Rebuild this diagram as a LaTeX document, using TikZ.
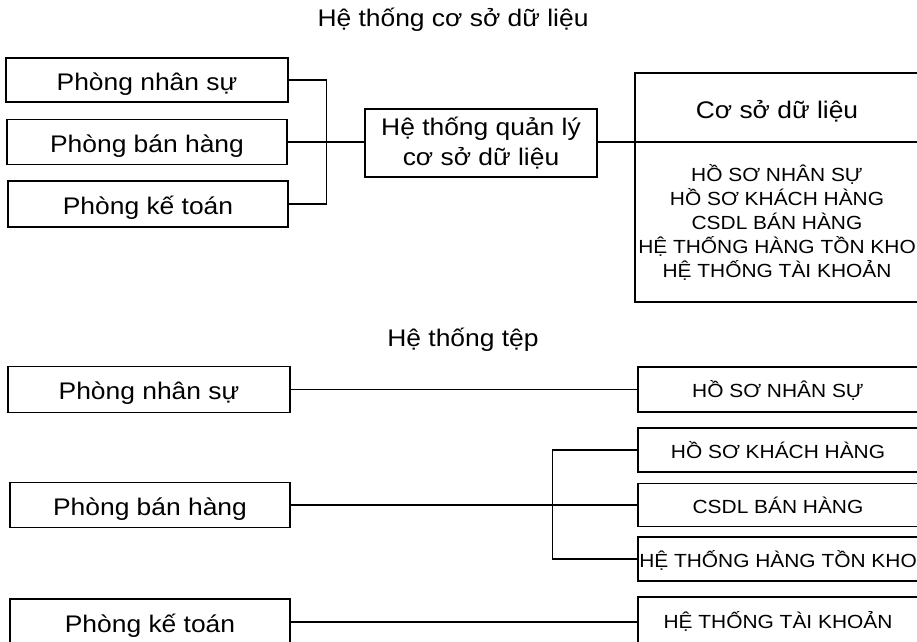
\documentclass[tikz,border=0pt]{standalone}
\usepackage{fontspec}
\setmainfont{Liberation Sans}[FakeStretch=1.1]
\begin{document}
\begin{tikzpicture}[x=1pt,y=-1pt,
  txt/.style={font=\fontsize{24}{29}\selectfont},
  caps/.style={font=\fontsize{19}{24}\selectfont},
  box/.style={draw,line width=1.1pt,inner sep=0pt,align=center},
  tbox/.style={box,txt,text height=26pt,text depth=6pt},
  cbox/.style={box,caps,text height=20pt,text depth=4pt},
  conn/.style={line width=1.1pt}]
\useasboundingbox (0,0) rectangle (917,641);
% titles
\node[txt,inner sep=0pt] (t1) at (453,20) {Hệ thống cơ sở dữ liệu};
\node[txt,inner sep=0pt] (t2) at (463,340) {Hệ thống tệp};
% top section
\node[tbox,minimum width=282,minimum height=44] (l1) at (147,80) {Phòng nhân sự};
\node[tbox,minimum width=280,minimum height=45] (l2) at (147,142) {Phòng bán hàng};
\node[tbox,minimum width=280,minimum height=46] (l3) at (148,204) {Phòng kế toán};
\node[box,txt,minimum width=232,minimum height=68,font=\fontsize{24}{30}\selectfont] (dbms) at (481,143) {Hệ thống quản lý\\cơ sở dữ liệu};
\node[box,minimum width=283,minimum height=229] (db) at (776.5,187.5) {};
\node[txt,inner sep=0pt] (dbt) at (777,111) {Cơ sở dữ liệu};
\node[caps,inner sep=0pt,align=center] (dbl) at (777,222) {HỒ SƠ NHÂN SỰ\\HỒ SƠ KHÁCH HÀNG\\CSDL BÁN HÀNG\\HỆ THỐNG HÀNG TỒN KHO\\HỆ THỐNG TÀI KHOẢN};
\draw[conn] (db.west |- l2.east) -- (db.east |- l2.east);
\draw[conn] (l1.east) -- ++(38,0) |- (l3.east);
\draw[conn] (l2.east) -- (l2.east -| dbms.west);
\draw[conn] (l2.east -| dbms.east) -- (l2.east -| db.west);
% bottom section
\node[tbox,minimum width=282,minimum height=46] (lb1) at (149,389.5) {Phòng nhân sự};
\node[tbox,minimum width=280,minimum height=45] (lb2) at (150,505) {Phòng bán hàng};
\node[tbox,minimum width=280,minimum height=46] (lb3) at (150,622) {Phòng kế toán};
\node[cbox,minimum width=280,minimum height=45] (r1) at (778,389.5) {HỒ SƠ NHÂN SỰ};
\node[cbox,minimum width=280,minimum height=44] (r2) at (778,450) {HỒ SƠ KHÁCH HÀNG};
\node[cbox,minimum width=280,minimum height=43] (r3) at (778,505) {CSDL BÁN HÀNG};
\node[cbox,minimum width=280,minimum height=44] (r4) at (778,559) {HỆ THỐNG HÀNG TỒN KHO};
\node[cbox,minimum width=280,minimum height=46] (r5) at (778,620) {HỆ THỐNG TÀI KHOẢN};
\draw[conn] (lb1.east) -- (r1.west);
\draw[conn] (lb2.east) -- (r3.west);
\draw[conn] (lb3.east) -- (lb3.east -| r5.west);
\draw[conn] (r2.west) -- ++(-85,0) |- (r4.west);
\end{tikzpicture}
\end{document}
